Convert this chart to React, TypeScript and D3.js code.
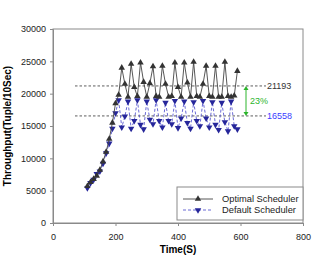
import React, { useEffect, useRef } from 'react';
import * as d3 from 'd3';

// time (s) of each sample
const times = [110, 120, 130, 140, 150, 160, 170, 180, 190, 200, 210, 220, 230, 240, 250, 260, 270, 280, 290, 300,
  310, 320, 330, 340, 350, 360, 370, 380, 390, 400, 410, 420, 430, 440, 450, 460, 470, 480, 490, 500,
  510, 520, 530, 540, 550, 560, 570, 580, 590];

const optimal = [5700, 6300, 6800, 7300, 8200, 9500, 11000, 13000, 15500, 18500, 19800, 24000, 21500, 19500, 24600, 21000, 19600, 24800, 21800, 19500,
  21600, 24200, 19600, 19500, 24300, 21500, 19500, 19600, 24800, 21000, 19500, 24800, 21700, 19500, 24900, 19600, 19500, 21500, 24300, 19600,
  19500, 24300, 19500, 19500, 24900, 19600, 19500, 19700, 23500];

const fallback = [5400, 6200, 6700, 7600, 8000, 9200, 10800, 12300, 14600, 17000, 19000, 14800, 16500, 18800, 14600, 15800, 19000, 15200, 14500, 18800,
  16000, 15300, 19000, 15800, 14800, 18600, 15800, 15300, 18900, 14700, 16200, 18800, 15500, 14600, 18700, 15800, 15000, 18900, 16200, 14800,
  18700, 15200, 14400, 18600, 15600, 14200, 18800, 15000, 14500];

const xTicks = [0, 200, 400, 600, 800];
const yTicks = [0, 5000, 10000, 15000, 20000, 25000, 30000];
const refLines = [21193, 16558];
const gapLabel = '23%';
const seriesNames = ['Optimal Scheduler', 'Default Scheduler'];

const W = 319, H = 262;
const M = { left: 53, top: 29, right: 303, bottom: 223 };
const font = 'Liberation Sans, Arial, sans-serif';

export default function App() {
  const ref = useRef<SVGSVGElement>(null);

  useEffect(() => {
    const svg = d3.select(ref.current);
    svg.selectAll('*').remove();

    const x = d3.scaleLinear().domain([0, 800]).range([M.left, M.right]);
    const y = d3.scaleLinear().domain([0, 30000]).range([M.bottom, M.top]);

    // frame
    svg.append('rect')
      .attr('x', M.left).attr('y', M.top)
      .attr('width', M.right - M.left).attr('height', M.bottom - M.top)
      .attr('fill', 'none').attr('stroke', '#8a8a8a');

    // axes
    const gx = svg.append('g').attr('transform', `translate(0,${M.bottom})`)
      .call(d3.axisBottom(x).tickValues(xTicks).tickSize(3).tickPadding(8).tickFormat(d3.format('d')));
    const gy = svg.append('g').attr('transform', `translate(${M.left},0)`)
      .call(d3.axisLeft(y).tickValues(yTicks).tickSize(3).tickPadding(4).tickFormat(d3.format('d')));
    [gx, gy].forEach(g => {
      g.select('.domain').attr('stroke', '#8a8a8a');
      g.selectAll('.tick line').attr('stroke', '#8a8a8a');
      g.selectAll('.tick text').attr('font-family', font).attr('font-size', 9).attr('fill', '#222');
    });

    // reference lines
    refLines.forEach((v, i) => {
      svg.append('line')
        .attr('x1', 75).attr('x2', 266)
        .attr('y1', y(v)).attr('y2', y(v))
        .attr('stroke', '#333').attr('stroke-width', 0.8).attr('stroke-dasharray', '2.5,2');
      svg.append('text')
        .attr('x', 267).attr('y', y(v) + 3)
        .attr('font-family', font).attr('font-size', 9)
        .attr('fill', i === 0 ? '#333' : '#3a3aff')
        .text(String(v));
    });

    // difference arrow
    const ax = 246;
    svg.append('line')
      .attr('x1', ax).attr('x2', ax)
      .attr('y1', y(refLines[0]) + 3).attr('y2', y(refLines[1]) - 3)
      .attr('stroke', '#2cb52c').attr('stroke-width', 1);
    const head = (yy: number, dir: number) =>
      `M${ax - 2.5},${yy + dir * 4} L${ax},${yy} L${ax + 2.5},${yy + dir * 4} Z`;
    svg.append('path').attr('d', head(y(refLines[0]), 1)).attr('fill', '#2cb52c');
    svg.append('path').attr('d', head(y(refLines[1]), -1)).attr('fill', '#2cb52c');
    svg.append('text')
      .attr('x', 250).attr('y', (y(refLines[0]) + y(refLines[1])) / 2 + 3)
      .attr('font-family', font).attr('font-size', 9).attr('fill', '#2cb52c')
      .text(gapLabel);

    const line = d3.line<number>().x((_, i) => x(times[i])).y(d => y(d));
    const up = d3.symbol().type(d3.symbolTriangle).size(18)();
    const series = [
      { values: fallback, stroke: '#5a5ad0', dash: '3,2', fill: '#26269a', rot: 180 },
      { values: optimal, stroke: '#444', dash: null, fill: '#333', rot: 0 },
    ];
    series.forEach(s => {
      svg.append('path')
        .attr('d', line(s.values))
        .attr('fill', 'none').attr('stroke', s.stroke).attr('stroke-width', 0.9)
        .attr('stroke-dasharray', s.dash);
      svg.append('g').selectAll('path').data(s.values).join('path')
        .attr('d', up)
        .attr('transform', (d, i) => `translate(${x(times[i])},${y(d)}) rotate(${s.rot})`)
        .attr('fill', s.fill);
    });

    // legend
    const lg = svg.append('g');
    lg.append('rect').attr('x', 177).attr('y', 187).attr('width', 126).attr('height', 33)
      .attr('fill', '#fff').attr('stroke', '#8a8a8a');
    seriesNames.forEach((name, i) => {
      const s = series[1 - i];
      const ly = 199 + i * 11;
      lg.append('line').attr('x1', 183).attr('x2', 213).attr('y1', ly).attr('y2', ly)
        .attr('stroke', s.stroke).attr('stroke-width', 0.9).attr('stroke-dasharray', s.dash);
      lg.append('path').attr('d', up).attr('transform', `translate(198,${ly}) rotate(${s.rot})`).attr('fill', s.fill);
      lg.append('text').attr('x', 222).attr('y', ly + 3)
        .attr('font-family', font).attr('font-size', 9.3).attr('fill', '#222').text(name);
    });

    // axis titles
    svg.append('text').attr('x', 178).attr('y', 253).attr('text-anchor', 'middle')
      .attr('font-family', font).attr('font-size', 10).attr('font-weight', 'bold').text('Time(S)');
    svg.append('text').attr('transform', `translate(11,${(M.top + M.bottom) / 2}) rotate(-90)`)
      .attr('text-anchor', 'middle')
      .attr('font-family', font).attr('font-size', 10).attr('font-weight', 'bold').text('Throughput(Tuple/10Sec)');
  }, []);

  return (
    <svg ref={ref} width={W} height={H}
      style={{ position: 'absolute', left: 0, top: 0, background: '#fff' }} />
  );
}
